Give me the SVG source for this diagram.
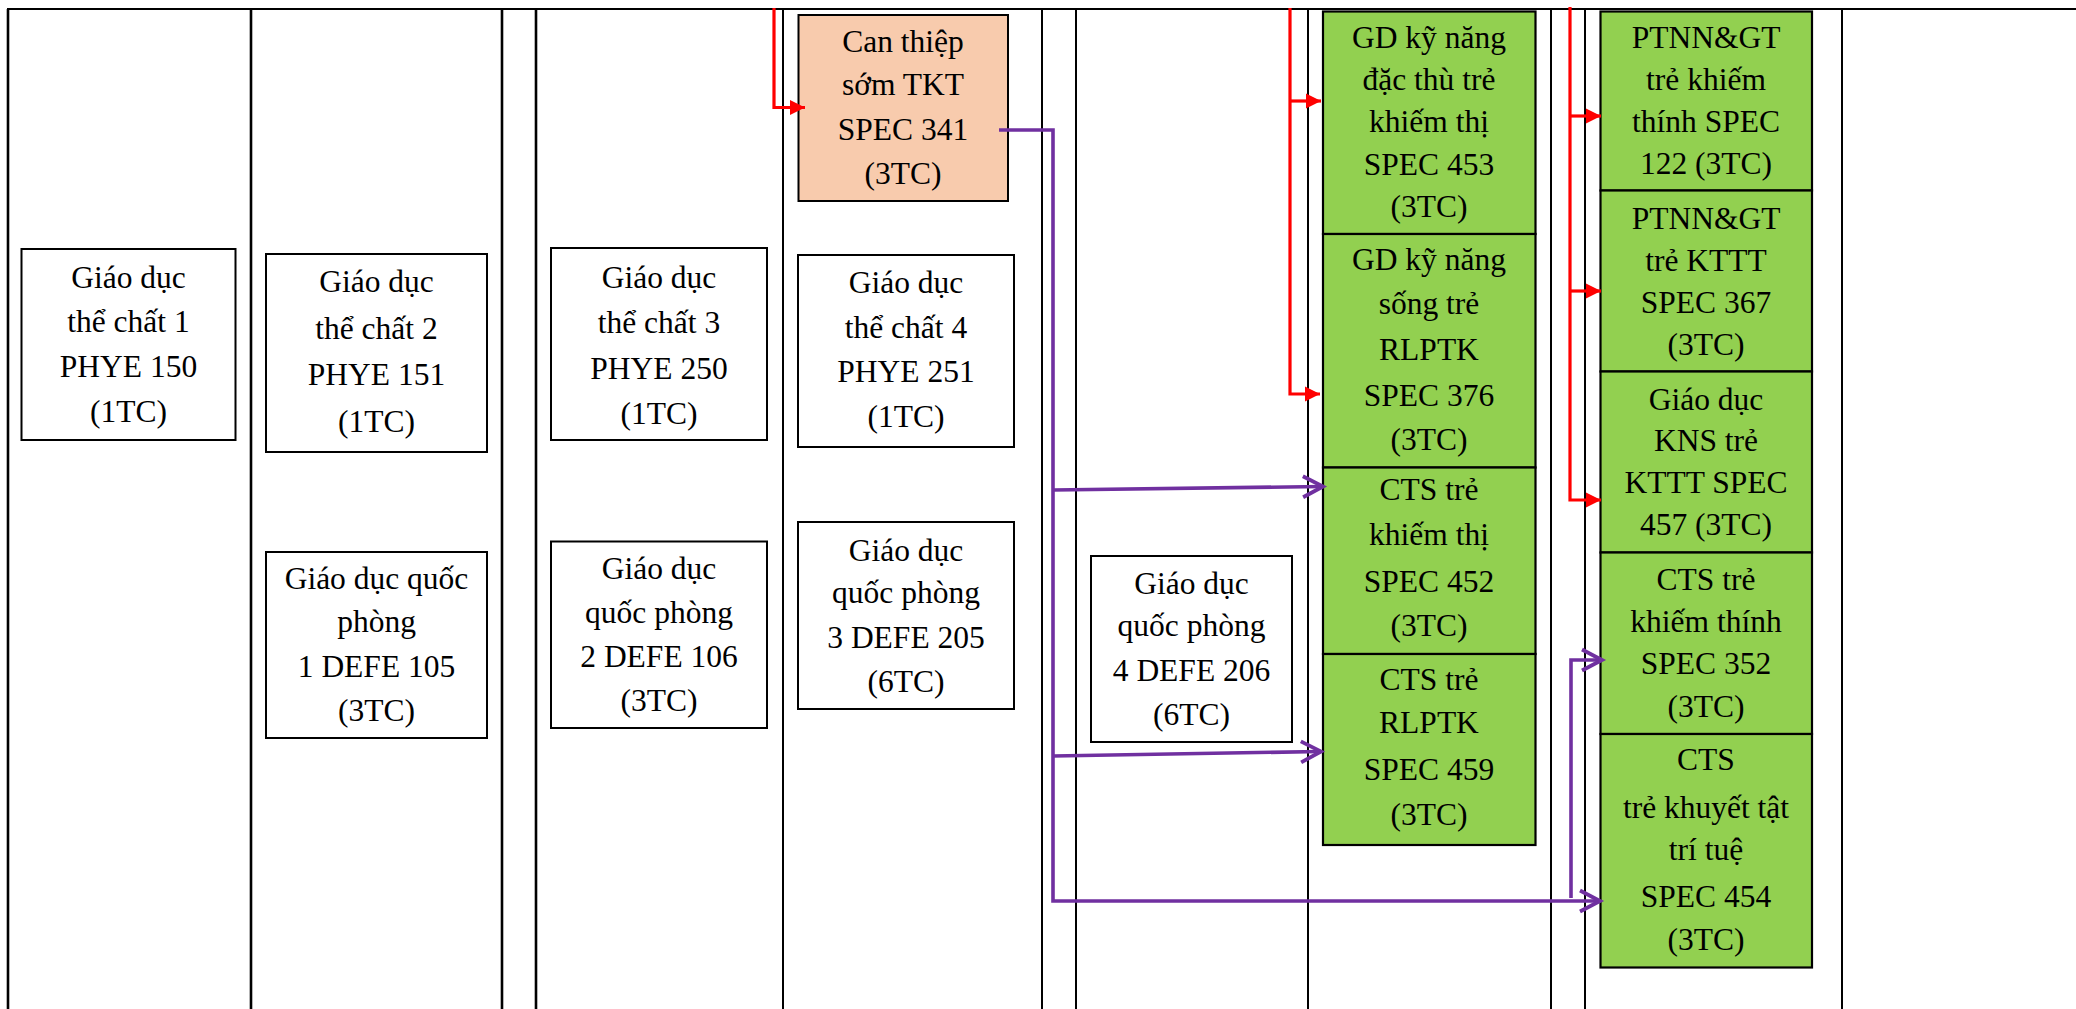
<svg xmlns="http://www.w3.org/2000/svg" width="2076" height="1009" viewBox="0 0 2076 1009">
<style>
.bg{fill:#ffffff}
.grid{stroke:#000;stroke-width:2;fill:none}
.gridb{stroke:#000;stroke-width:2.6;fill:none}
.box{fill:#ffffff;stroke:#000;stroke-width:2}
.orange{fill:#F8CBAD;stroke:#000;stroke-width:2}
.green{fill:#92D050;stroke:#000;stroke-width:2.2}
.lbl{font-size:31.5px;fill:#000;text-anchor:middle}
.red{stroke:#FF0000;stroke-width:3.2;fill:none}
.purple{stroke:#7030A0;stroke-width:3.6;fill:none}
</style>
<defs>
<marker id="redArrow" markerUnits="userSpaceOnUse" markerWidth="16" markerHeight="16" refX="15" refY="7.5" orient="auto" overflow="visible">
<path d="M0,0 L15,7.5 L0,15 Z" fill="#FF0000"/>
</marker>
<marker id="purpleArrow" markerUnits="userSpaceOnUse" markerWidth="24" markerHeight="24" refX="20" refY="10.5" orient="auto" overflow="visible">
<path d="M0,0 L20,10.5 L0,21" fill="none" stroke="#7030A0" stroke-width="3.8"/>
</marker>
</defs>
<rect class="bg" x="0" y="0" width="2076" height="1009"/>
<g id="table">
<line class="grid" x1="7" y1="9" x2="2076" y2="9"/>
<line class="gridb" x1="8" y1="9" x2="8" y2="1009"/>
<line class="gridb" x1="251" y1="9" x2="251" y2="1009"/>
<line class="gridb" x1="502" y1="9" x2="502" y2="1009"/>
<line class="gridb" x1="536" y1="9" x2="536" y2="1009"/>
<line class="grid" x1="783" y1="9" x2="783" y2="1009"/>
<line class="grid" x1="1042" y1="9" x2="1042" y2="1009"/>
<line class="grid" x1="1076" y1="9" x2="1076" y2="1009"/>
<line class="grid" x1="1308" y1="9" x2="1308" y2="1009"/>
<line class="grid" x1="1551" y1="9" x2="1551" y2="1009"/>
<line class="grid" x1="1585" y1="9" x2="1585" y2="1009"/>
<line class="grid" x1="1842" y1="9" x2="1842" y2="1009"/>
</g>
<g font-family="'Liberation Serif', 'Times New Roman', 'DejaVu Serif', serif">
<g id="phye150">
<rect class="box" x="21.5" y="249" width="214" height="191"/>
<text class="lbl"><tspan x="128.5" y="287.5">Giáo dục</tspan><tspan x="128.5" y="332">thể chất 1</tspan><tspan x="128.5" y="377">PHYE 150</tspan><tspan x="128.5" y="421.5">(1TC)</tspan></text>
</g>
<g id="phye151">
<rect class="box" x="266" y="254" width="221" height="198"/>
<text class="lbl"><tspan x="376.5" y="292">Giáo dục</tspan><tspan x="376.5" y="338.5">thể chất 2</tspan><tspan x="376.5" y="385">PHYE 151</tspan><tspan x="376.5" y="431.5">(1TC)</tspan></text>
</g>
<g id="phye250">
<rect class="box" x="551" y="248" width="216" height="192"/>
<text class="lbl"><tspan x="659" y="287.5">Giáo dục</tspan><tspan x="659" y="333">thể chất 3</tspan><tspan x="659" y="378.5">PHYE 250</tspan><tspan x="659" y="424">(1TC)</tspan></text>
</g>
<g id="phye251">
<rect class="box" x="798" y="255" width="216" height="192"/>
<text class="lbl"><tspan x="906" y="293">Giáo dục</tspan><tspan x="906" y="338">thể chất 4</tspan><tspan x="906" y="382">PHYE 251</tspan><tspan x="906" y="426.5">(1TC)</tspan></text>
</g>
<g id="spec341">
<rect class="orange" x="798.5" y="15" width="209.5" height="186"/>
<text class="lbl"><tspan x="903" y="51.5">Can thiệp</tspan><tspan x="903" y="95">sớm TKT</tspan><tspan x="903" y="140">SPEC 341</tspan><tspan x="903" y="183.5">(3TC)</tspan></text>
</g>
<g id="defe105">
<rect class="box" x="266" y="552" width="221" height="186"/>
<text class="lbl"><tspan x="376.5" y="589">Giáo dục quốc</tspan><tspan x="376.5" y="632">phòng</tspan><tspan x="376.5" y="677">1 DEFE 105</tspan><tspan x="376.5" y="721">(3TC)</tspan></text>
</g>
<g id="defe106">
<rect class="box" x="551" y="541.5" width="216" height="186.5"/>
<text class="lbl"><tspan x="659" y="579">Giáo dục</tspan><tspan x="659" y="623">quốc phòng</tspan><tspan x="659" y="667">2 DEFE 106</tspan><tspan x="659" y="711">(3TC)</tspan></text>
</g>
<g id="defe205">
<rect class="box" x="798" y="522" width="216" height="187"/>
<text class="lbl"><tspan x="906" y="560.5">Giáo dục</tspan><tspan x="906" y="603">quốc phòng</tspan><tspan x="906" y="648">3 DEFE 205</tspan><tspan x="906" y="692">(6TC)</tspan></text>
</g>
<g id="defe206">
<rect class="box" x="1091" y="556" width="201" height="186"/>
<text class="lbl"><tspan x="1191.5" y="593.5">Giáo dục</tspan><tspan x="1191.5" y="636">quốc phòng</tspan><tspan x="1191.5" y="681">4 DEFE 206</tspan><tspan x="1191.5" y="725">(6TC)</tspan></text>
</g>
<g id="spec453">
<rect class="green" x="1323" y="11.5" width="212.5" height="222.5"/>
<text class="lbl"><tspan x="1429" y="48">GD kỹ năng</tspan><tspan x="1429" y="90">đặc thù trẻ</tspan><tspan x="1429" y="132">khiếm thị</tspan><tspan x="1429" y="175">SPEC 453</tspan><tspan x="1429" y="217">(3TC)</tspan></text>
</g>
<g id="spec376">
<rect class="green" x="1323" y="234" width="212.5" height="233.5"/>
<text class="lbl"><tspan x="1429" y="270">GD kỹ năng</tspan><tspan x="1429" y="314">sống trẻ</tspan><tspan x="1429" y="360">RLPTK</tspan><tspan x="1429" y="406">SPEC 376</tspan><tspan x="1429" y="450">(3TC)</tspan></text>
</g>
<g id="spec452">
<rect class="green" x="1323" y="467.5" width="212.5" height="186.5"/>
<text class="lbl"><tspan x="1429" y="500">CTS trẻ</tspan><tspan x="1429" y="545">khiếm thị</tspan><tspan x="1429" y="592">SPEC 452</tspan><tspan x="1429" y="636">(3TC)</tspan></text>
</g>
<g id="spec459">
<rect class="green" x="1323" y="654" width="212.5" height="191"/>
<text class="lbl"><tspan x="1429" y="690">CTS trẻ</tspan><tspan x="1429" y="733">RLPTK</tspan><tspan x="1429" y="780">SPEC 459</tspan><tspan x="1429" y="825">(3TC)</tspan></text>
</g>
<g id="spec122">
<rect class="green" x="1600.5" y="11.5" width="211.5" height="179"/>
<text class="lbl"><tspan x="1706" y="47.5">PTNN&amp;GT</tspan><tspan x="1706" y="89.5">trẻ khiếm</tspan><tspan x="1706" y="131.5">thính SPEC</tspan><tspan x="1706" y="174">122 (3TC)</tspan></text>
</g>
<g id="spec367">
<rect class="green" x="1600.5" y="190.5" width="211.5" height="181"/>
<text class="lbl"><tspan x="1706" y="228.5">PTNN&amp;GT</tspan><tspan x="1706" y="270.5">trẻ KTTT</tspan><tspan x="1706" y="312.5">SPEC 367</tspan><tspan x="1706" y="355">(3TC)</tspan></text>
</g>
<g id="spec457">
<rect class="green" x="1600.5" y="371.5" width="211.5" height="181"/>
<text class="lbl"><tspan x="1706" y="409.5">Giáo dục</tspan><tspan x="1706" y="451">KNS trẻ</tspan><tspan x="1706" y="493">KTTT SPEC</tspan><tspan x="1706" y="535">457 (3TC)</tspan></text>
</g>
<g id="spec352">
<rect class="green" x="1600.5" y="552.5" width="211.5" height="181.5"/>
<text class="lbl"><tspan x="1706" y="589.5">CTS trẻ</tspan><tspan x="1706" y="632">khiếm thính</tspan><tspan x="1706" y="674">SPEC 352</tspan><tspan x="1706" y="716.5">(3TC)</tspan></text>
</g>
<g id="spec454">
<rect class="green" x="1600.5" y="734" width="211.5" height="233.5"/>
<text class="lbl"><tspan x="1706" y="770">CTS</tspan><tspan x="1706" y="818">trẻ khuyết tật</tspan><tspan x="1706" y="860">trí tuệ</tspan><tspan x="1706" y="907">SPEC 454</tspan><tspan x="1706" y="950">(3TC)</tspan></text>
</g>
</g>
<g id="connectors">
<path class="red" d="M774,8 V107.5 H805" marker-end="url(#redArrow)"/>
<path class="red" d="M1290,8 V394 H1320" marker-end="url(#redArrow)"/>
<path class="red" d="M1290,101 H1321" marker-end="url(#redArrow)"/>
<path class="red" d="M1570,7 V500 H1601" marker-end="url(#redArrow)"/>
<path class="red" d="M1570,116 H1601" marker-end="url(#redArrow)"/>
<path class="red" d="M1570,291 H1601" marker-end="url(#redArrow)"/>
<path class="purple" d="M999,130 H1053 V901 H1600" marker-end="url(#purpleArrow)"/>
<path class="purple" d="M1053,490 L1323,486.5" marker-end="url(#purpleArrow)"/>
<path class="purple" d="M1053,756 L1321,751.5" marker-end="url(#purpleArrow)"/>
<path class="purple" d="M1571,898 V660 H1602" marker-end="url(#purpleArrow)"/>
</g>
</svg>
